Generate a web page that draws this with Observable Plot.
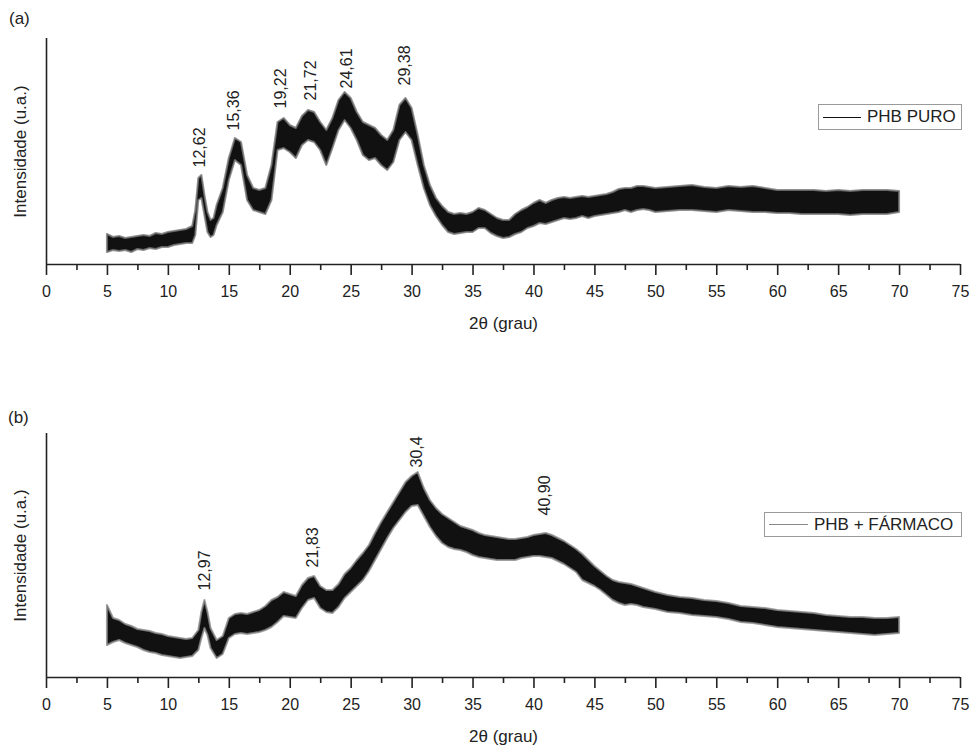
<!DOCTYPE html>
<html>
<head>
<meta charset="utf-8">
<script src="https://cdn.jsdelivr.net/npm/d3@7"></script>
<script src="https://cdn.jsdelivr.net/npm/@observablehq/plot@0.6"></script>
<style>
  html, body { margin: 0; padding: 0; background: #fff; }
  body { width: 974px; height: 751px; position: relative; overflow: hidden;
         font-family: "Liberation Sans", Arial, sans-serif; color: #222; }
  #top, #bottom { position: absolute; left: 0; }
  #top { top: 0; }
  #bottom { top: 375px; }
  svg { display: block; }
  .panel { position: absolute; font-size: 17px; line-height: 1; color: #222; }
  .legend { position: absolute; border: 1px solid #9a9a9a; box-sizing: border-box;
            display: flex; align-items: center; font-size: 17px; color: #222; background: #fff; }
  .legend .swatch { display: inline-block; height: 0; }
</style>
</head>
<body>
<div id="top"></div>
<div id="bottom"></div>
<div class="panel" style="left:9px; top:10px;">(a)</div>
<div class="panel" style="left:8px; top:409px;">(b)</div>
<div class="legend" style="left:818px; top:104px; width:144px; height:26px;">
  <span class="swatch" style="margin-left:4px; width:38px; border-top:1.3px solid #111;"></span>
  <span style="margin-left:6px;">PHB PURO</span>
</div>
<div class="legend" style="left:764px; top:512px; width:198px; height:25px;">
  <span class="swatch" style="margin-left:4px; width:39px; border-top:1px solid #888;"></span>
  <span style="margin-left:6px;">PHB + FÁRMACO</span>
</div>
<script>
// ---------- Data (intensity in arbitrary units) ----------
// Panel (a): PHB PURO — 2θ sample positions, upper and lower edge of the noisy trace
const thetaA = [5,5.5,6,6.5,7,7.5,8,8.5,9,9.5,10,10.5,11,11.5,12,12.25,12.5,12.75,13,13.25,13.5,13.75,14,14.5,15,15.5,16,16.5,17,17.5,18,18.5,19,19.5,20,20.5,21,21.5,22,22.5,23,23.5,24,24.5,25,25.5,26,26.5,27,27.5,28,28.5,29,29.5,30,30.5,31,31.5,32,32.5,33,33.5,34,34.5,35,35.5,36,36.5,37,37.5,38,38.5,39,39.5,40,40.5,41,41.5,42,42.5,43,43.5,44,44.5,45,45.5,46,46.5,47,47.5,48,48.5,49,49.5,50,51,52,53,54,55,56,57,58,59,60,61,62,63,64,65,66,67,68,69,70];
const hiA = [30,27,28,26,27,28,29,28,31,30,32,33,34,35,38,54,86,89,69,52,44,46,59,76,106,126,122,89,76,74,76,99,142,146,139,136,148,154,152,142,134,146,164,172,166,152,142,139,136,129,124,134,159,166,156,129,99,79,66,58,52,50,51,50,52,56,54,50,46,44,44,50,54,57,61,64,61,64,66,67,66,67,68,67,68,69,70,72,75,76,76,78,78,77,76,77,78,79,77,76,78,77,78,76,74,74,74,74,73,74,73,74,74,74,73];
const loA = [12,14,13,14,12,15,14,16,15,17,17,19,20,21,21,29,64,66,49,32,27,29,39,52,84,104,99,64,54,52,50,64,114,116,112,106,119,124,122,114,99,116,134,144,136,124,109,104,106,99,94,102,124,132,124,99,76,59,48,39,32,30,31,32,32,36,36,31,28,26,27,30,32,36,38,41,40,42,44,46,45,46,48,46,48,49,50,51,52,54,52,54,55,54,52,53,54,54,53,52,54,53,52,52,51,51,50,50,50,50,49,50,50,50,52];
const peaksA = [12.62, 15.36, 19.22, 21.72, 24.61, 29.38];
const peakLabelsA = ["12,62", "15,36", "19,22", "21,72", "24,61", "29,38"];
const peakLabelYA = [97, 134, 156, 164, 176, 179];

// Panel (b): PHB + FÁRMACO
const thetaB = [5,5.5,6,6.5,7,7.5,8,8.5,9,9.5,10,10.5,11,11.5,12,12.5,12.75,13,13.25,13.5,14,14.5,15,15.5,16,16.5,17,17.5,18,18.5,19,19.5,20,20.5,21,21.5,22,22.5,23,23.5,24,24.5,25,25.5,26,26.5,27,27.5,28,28.5,29,29.5,30,30.5,31,31.5,32,32.5,33,33.5,34,34.5,35,35.5,36,36.5,37,37.5,38,38.5,39,39.5,40,40.5,41,41.5,42,42.5,43,43.5,44,44.5,45,45.5,46,46.5,47,47.5,48,48.5,49,49.5,50,51,52,53,54,55,56,57,58,59,60,61,62,63,64,65,66,67,68,69,70];
const hiB = [72,59,57,53,51,48,47,46,44,43,41,40,39,38,39,47,65,77,65,49,37,41,59,63,64,63,65,67,71,77,80,85,83,81,92,99,101,91,87,87,93,103,109,117,124,132,144,155,165,175,185,195,201,205,189,177,169,163,159,155,151,149,147,144,142,141,140,139,138,138,139,140,142,143,144,142,139,136,132,128,123,117,111,106,101,97,95,94,93,91,89,87,85,82,80,79,77,76,74,71,70,69,67,66,65,64,62,61,60,60,59,59,60];
const loB = [32,35,37,34,32,30,27,25,24,22,21,20,19,20,21,27,39,49,42,29,19,23,39,43,44,43,44,45,47,50,55,61,60,59,69,77,79,69,65,64,70,79,85,91,97,106,117,128,139,149,157,165,171,172,161,150,141,134,130,128,127,125,122,120,119,118,117,117,117,117,119,120,121,121,120,119,116,113,109,105,97,94,91,87,82,77,74,72,73,72,70,69,68,65,64,62,61,60,58,55,54,52,50,49,48,47,46,45,44,43,42,43,44];
const peaksB = [12.97, 21.83, 30.4, 40.90];
const peakLabelsB = ["12,97", "21,83", "30,4", "40,90"];
const peakLabelYB = [87, 110, 210, 162];

// Axis ticks
const majorTicks = [0,5,10,15,20,25,30,35,40,45,50,55,60,65,70,75];
const minorTicks = [2.5,7.5,12.5,17.5,22.5,27.5,32.5,37.5,42.5,47.5,52.5,57.5,62.5,67.5,72.5];
const xLabel = "2θ (grau)";
const yLabel = "Intensidade (u.a.)";

function panel({theta, hi, lo, peaks, labels, labelY, yMax, height, marginTop, marginBottom, fill, edge}) {
  const rows = theta.map((t, i) => ({t, hi: hi[i], lo: lo[i]}));
  const pk = peaks.map((p, i) => ({p, label: labels[i], y: labelY[i]}));
  return Plot.plot({
    width: 974,
    height,
    marginLeft: 46,
    marginRight: 14,
    marginTop,
    marginBottom,
    style: {fontFamily: "'Liberation Sans', Arial, sans-serif", color: "#222", background: "#fff", overflow: "visible"},
    x: {domain: [0, 75], axis: null},
    y: {domain: [0, yMax], axis: null},
    marks: [
      Plot.areaY(rows, {x: "t", y1: "lo", y2: "hi", fill, stroke: edge, strokeWidth: 2, strokeOpacity: 0.8, curve: "linear"}),
      Plot.ruleY([0], {stroke: "#222", strokeWidth: 1.6}),
      Plot.ruleX([0], {stroke: "#222", strokeWidth: 1.6}),
      Plot.axisX({ticks: majorTicks, tickSize: 11, tickPadding: 10, tickFormat: d => String(d), fontSize: 16, stroke: "#222", strokeWidth: 1.6, label: null}),
      Plot.axisX({ticks: minorTicks, tickSize: 6, tickFormat: () => "", stroke: "#222", strokeWidth: 1.6, label: null}),
      Plot.text([xLabel], {frameAnchor: "bottom", dy: 64, fontSize: 17, fill: "#222"}),
      Plot.text([yLabel], {frameAnchor: "left", textAnchor: "middle", dx: -26, rotate: -90, fontSize: 17, fill: "#222"}),
      Plot.text(pk, {x: "p", y: "y", text: "label", rotate: -90, textAnchor: "start", fontSize: 16, fill: "#222"})
    ]
  });
}

document.getElementById("top").appendChild(panel({
  theta: thetaA, hi: hiA, lo: loA, peaks: peaksA, labels: peakLabelsA, labelY: peakLabelYA,
  yMax: 226, height: 375, marginTop: 38, marginBottom: 111, fill: "#111", edge: "#777"
}));
document.getElementById("bottom").appendChild(panel({
  theta: thetaB, hi: hiB, lo: loB, peaks: peaksB, labels: peakLabelsB, labelY: peakLabelYB,
  yMax: 244, height: 376, marginTop: 58, marginBottom: 74, fill: "#111", edge: "#888"
}));
</script>
</body>
</html>
